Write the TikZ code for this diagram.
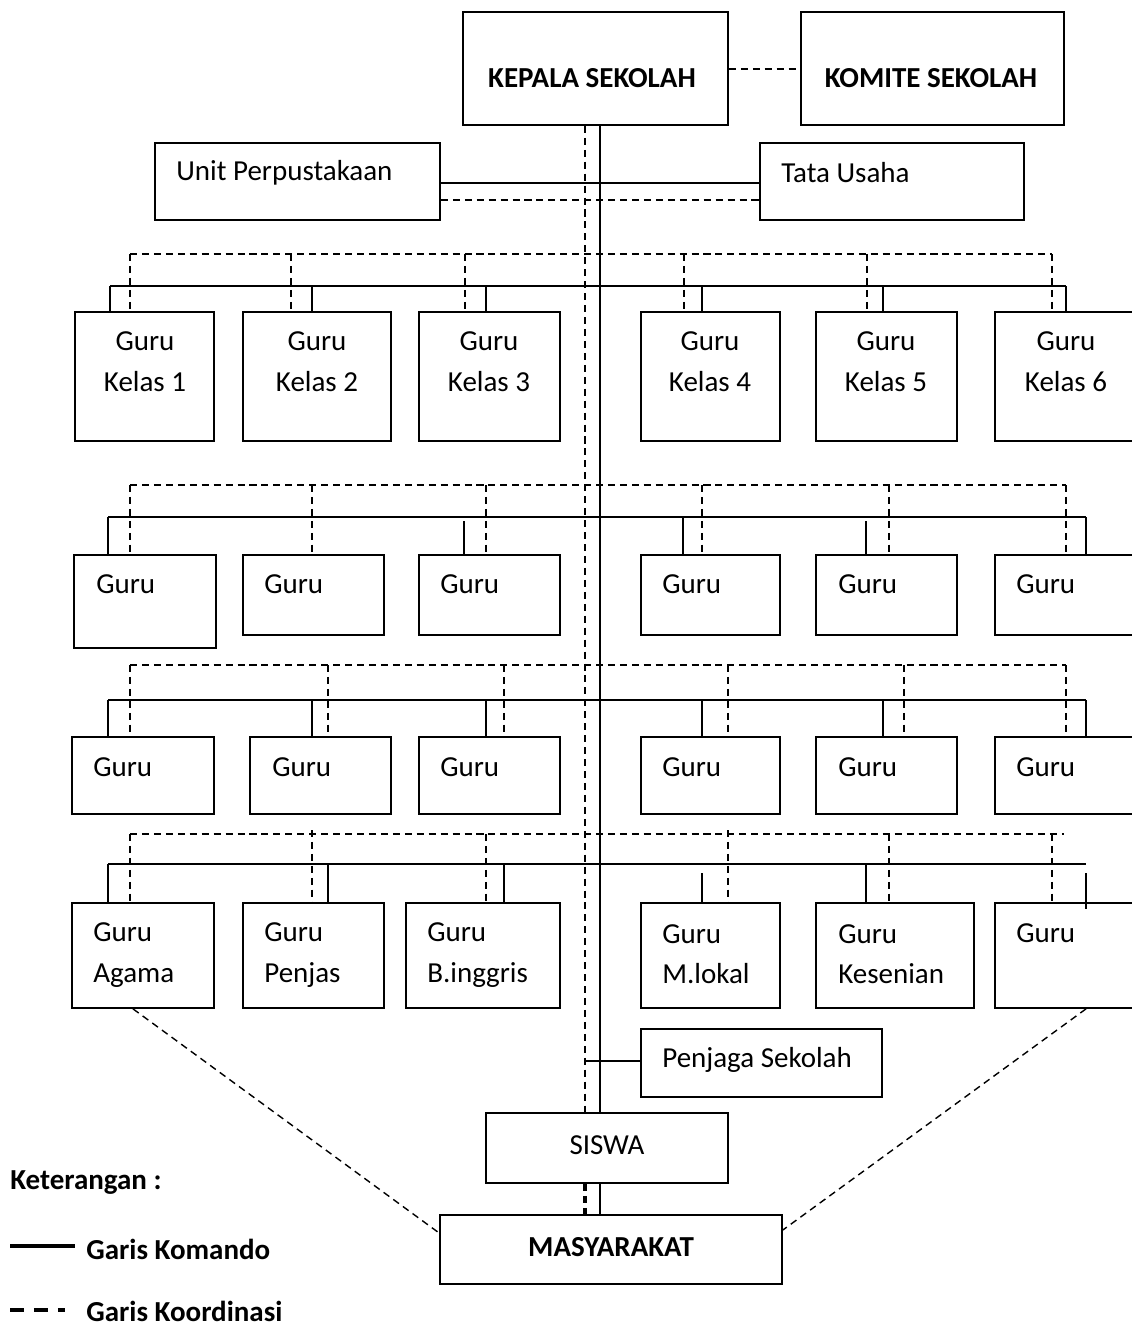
\documentclass[tikz,border=0pt]{standalone}
\usepackage{fontspec}
\setmainfont{Carlito}
\usetikzlibrary{positioning}

\begin{document}
\begin{tikzpicture}[x=0.02cm,y=-0.02cm,font=\fontsize{16.5}{23}\selectfont,
  box/.style={draw,line width=1pt,inner sep=0pt},
  lbl/.style={inner sep=0pt,align=left},
  hd/.style={inner sep=0pt,font=\fontsize{16.5}{23}\selectfont\bfseries},
  cmd/.style={line width=0.8pt},
  crd/.style={line width=0.8pt,dash pattern=on 4pt off 2.8pt}]
  \useasboundingbox (0,0) rectangle (1132,1328);
  % Pimpinan
  \node[box,minimum width=5.3cm,minimum height=2.26cm] (kepala) at (595.5,68.5) {};
  \node[hd] (kepalat) at (592,78) {KEPALA SEKOLAH};
  \node[box,minimum width=5.26cm,minimum height=2.26cm] (komite) at (932.5,68.5) {};
  \node[hd] (komitet) at (931,78) {KOMITE SEKOLAH};
  \node[box,minimum width=5.7cm,minimum height=1.54cm] (unit) at (297.5,181.5) {};
  \node[lbl,anchor=west] (unitt) at (176,173) {Unit Perpustakaan};
  \node[box,minimum width=5.28cm,minimum height=1.54cm] (tu) at (892,181.5) {};
  \node[lbl,anchor=west] (tut) at (781,173) {Tata Usaha};
  \draw[crd] (kepala.east |- 0,69) -- (komite.west |- 0,69);
  \draw[cmd] (unit.east |- 0,183) -- (tu.west |- 0,183);
  \draw[crd] (unit.east |- 0,200) -- (tu.west |- 0,200);

  % Guru kelas
  \node[box,minimum width=2.78cm,minimum height=2.58cm] (k1) at (144.5,376.5) {};
  \node[box,minimum width=2.96cm,minimum height=2.58cm] (k2) at (317,376.5) {};
  \node[box,minimum width=2.82cm,minimum height=2.58cm] (k3) at (489.5,376.5) {};
  \node[box,minimum width=2.78cm,minimum height=2.58cm] (k4) at (710.5,376.5) {};
  \node[box,minimum width=2.82cm,minimum height=2.58cm] (k5) at (886.5,376.5) {};
  \node[box,minimum width=2.9cm,minimum height=2.58cm] (k6) at (1067.5,376.5) {};
  \node[lbl,align=center] (k1t) at (145,361.5) {Guru\\Kelas 1};
  \node[lbl,align=center] (k2t) at (317,361.5) {Guru\\Kelas 2};
  \node[lbl,align=center] (k3t) at (489,361.5) {Guru\\Kelas 3};
  \node[lbl,align=center] (k4t) at (710,361.5) {Guru\\Kelas 4};
  \node[lbl,align=center] (k5t) at (886,361.5) {Guru\\Kelas 5};
  \node[lbl,align=center] (k6t) at (1066,361.5) {Guru\\Kelas 6};
  \draw[cmd] (110,286) -- (1066,286);
  \draw[cmd] (110,286) -- (k1.north -| 110,0) (312,286) -- (k2.north -| 312,0)
    (486,286) -- (k3.north -| 486,0) (702,286) -- (k4.north -| 702,0)
    (883,286) -- (k5.north -| 883,0) (1066,286) -- (k6.north -| 1066,0);
  \draw[crd] (130,254) -- (1052,254);
  \draw[crd] (130,254) -- (k1.north -| 130,0) (291,254) -- (k2.north -| 291,0)
    (465,254) -- (k3.north -| 465,0) (684,254) -- (k4.north -| 684,0)
    (867,254) -- (k5.north -| 867,0) (1052,254) -- (k6.north -| 1052,0);

  % Guru baris 3
  \node[box,minimum width=2.84cm,minimum height=1.86cm] (g31) at (145,601.5) {};
  \node[box,minimum width=2.82cm,minimum height=1.6cm] (g32) at (313.5,595) {};
  \node[box,minimum width=2.82cm,minimum height=1.6cm] (g33) at (489.5,595) {};
  \node[box,minimum width=2.78cm,minimum height=1.6cm] (g34) at (710.5,595) {};
  \node[box,minimum width=2.82cm,minimum height=1.6cm] (g35) at (886.5,595) {};
  \node[box,minimum width=2.9cm,minimum height=1.6cm] (g36) at (1067.5,595) {};
  \node[lbl,anchor=west] (g31t) at (96,584) {Guru};
  \node[lbl,anchor=west] (g32t) at (264,584) {Guru};
  \node[lbl,anchor=west] (g33t) at (440,584) {Guru};
  \node[lbl,anchor=west] (g34t) at (662,584) {Guru};
  \node[lbl,anchor=west] (g35t) at (838,584) {Guru};
  \node[lbl,anchor=west] (g36t) at (1016,584) {Guru};
  \draw[cmd] (108,517) -- (1086,517);
  \draw[cmd] (108,517) -- (g31.north -| 108,0) (464,521) -- (g33.north -| 464,0)
    (683,517) -- (g34.north -| 683,0) (866,521) -- (g35.north -| 866,0)
    (1086,517) -- (g36.north -| 1086,0);
  \draw[crd] (130,485) -- (1066,485);
  \draw[crd] (130,485) -- (g31.north -| 130,0) (312,485) -- (g32.north -| 312,0)
    (486,485) -- (g33.north -| 486,0) (702,485) -- (g34.north -| 702,0)
    (889,485) -- (g35.north -| 889,0) (1066,485) -- (g36.north -| 1066,0);

  % Guru baris 4
  \node[box,minimum width=2.84cm,minimum height=1.54cm] (g41) at (143,775.5) {};
  \node[box,minimum width=2.82cm,minimum height=1.54cm] (g42) at (320.5,775.5) {};
  \node[box,minimum width=2.82cm,minimum height=1.54cm] (g43) at (489.5,775.5) {};
  \node[box,minimum width=2.78cm,minimum height=1.54cm] (g44) at (710.5,775.5) {};
  \node[box,minimum width=2.82cm,minimum height=1.54cm] (g45) at (886.5,775.5) {};
  \node[box,minimum width=2.9cm,minimum height=1.54cm] (g46) at (1067.5,775.5) {};
  \node[lbl,anchor=west] (g41t) at (93,767) {Guru};
  \node[lbl,anchor=west] (g42t) at (272,767) {Guru};
  \node[lbl,anchor=west] (g43t) at (440,767) {Guru};
  \node[lbl,anchor=west] (g44t) at (662,767) {Guru};
  \node[lbl,anchor=west] (g45t) at (838,767) {Guru};
  \node[lbl,anchor=west] (g46t) at (1016,767) {Guru};
  \draw[cmd] (108,700) -- (1086,700);
  \draw[cmd] (108,700) -- (g41.north -| 108,0) (312,700) -- (g42.north -| 312,0)
    (486,700) -- (g43.north -| 486,0) (702,700) -- (g44.north -| 702,0)
    (883,700) -- (g45.north -| 883,0) (1086,700) -- (g46.north -| 1086,0);
  \draw[crd] (130,665) -- (1066,665);
  \draw[crd] (130,665) -- (g41.north -| 130,0) (328,665) -- (g42.north -| 328,0)
    (504,665) -- (g43.north -| 504,0) (728,665) -- (g44.north -| 728,0)
    (904,665) -- (g45.north -| 904,0) (1066,665) -- (g46.north -| 1066,0);

  % Guru bidang studi
  \node[box,minimum width=2.84cm,minimum height=2.1cm] (agama) at (143,955.5) {};
  \node[box,minimum width=2.82cm,minimum height=2.1cm] (penjas) at (313.5,955.5) {};
  \node[box,minimum width=3.08cm,minimum height=2.1cm] (bing) at (483,955.5) {};
  \node[box,minimum width=2.78cm,minimum height=2.1cm] (mlokal) at (710.5,955.5) {};
  \node[box,minimum width=3.16cm,minimum height=2.1cm] (seni) at (895,955.5) {};
  \node[box,minimum width=2.9cm,minimum height=2.1cm] (g56) at (1067.5,955.5) {};
  \node[lbl,anchor=west] (agamat) at (93,955) {Guru\\Agama};
  \node[lbl,anchor=west] (penjast) at (264,955) {Guru\\Penjas};
  \node[lbl,anchor=west] (bingt) at (427,955) {Guru\\B.inggris};
  \node[lbl,anchor=west] (mlokalt) at (662,954) {Guru\\M.lokal};
  \node[lbl,anchor=west] (senit) at (838,954) {Guru\\Kesenian};
  \node[lbl,anchor=west] (g56t) at (1016,933) {Guru};
  \draw[cmd] (108,864) -- (1086,864);
  \draw[cmd] (108,864) -- (agama.north -| 108,0) (328,864) -- (penjas.north -| 328,0)
    (504,864) -- (bing.north -| 504,0) (702,873) -- (mlokal.north -| 702,0)
    (866,864) -- (seni.north -| 866,0) (1086,873) -- ([yshift=-0.14cm]g56.north -| 1086,0);
  \draw[crd] (130,834) -- (1064,834);
  \draw[crd] (130,834) -- (agama.north -| 130,0) (312,830) -- (penjas.north -| 312,0)
    (486,834) -- (bing.north -| 486,0) (728,830) -- (mlokal.north -| 728,0)
    (889,834) -- (seni.north -| 889,0) (1052,834) -- (g56.north -| 1052,0);

  % Bawah
  \node[box,minimum width=4.82cm,minimum height=1.36cm] (penjaga) at (761.5,1063) {};
  \node[lbl,anchor=west] (penjagat) at (662,1060) {Penjaga Sekolah};
  \node[box,minimum width=4.84cm,minimum height=1.4cm] (siswa) at (607,1148) {};
  \node[lbl] (siswat) at (607,1145) {SISWA};
  \node[box,minimum width=6.84cm,minimum height=1.38cm] (masy) at (611,1249.5) {};
  \node[hd] (masyt) at (611,1247) {MASYARAKAT};
  \draw[cmd] (penjaga.west |- 0,1061) -- (585,1061);
  % Garis tengah
  \draw[cmd] (kepala.south -| 600,0) -- (siswa.north -| 600,0);
  \draw[crd] (kepala.south -| 585,0) -- (siswa.north -| 585,0);
  \draw[cmd] (siswa.south -| 600,0) -- (masy.north -| 600,0);
  \draw[crd,line width=2pt] (siswa.south -| 585,0) -- (masy.north -| 585,0);
  \draw[crd] (agama.south -| 133,0) -- (masy.west |- 0,1233);
  \draw[crd] (g56.south -| 1086,0) -- (masy.east |- 0,1230);

  % Keterangan
  \node[hd,anchor=west] (ket) at (10,1183) {Keterangan :};
  \coordinate (ls1) at (10,1246);
  \coordinate (ls2) at (75,1246);
  \draw[line width=2pt] (ls1) -- (ls2);
  \node[hd,anchor=west] (ketk) at (86,1249) {Garis Komando};
  \coordinate (ld1) at (10,1310);
  \coordinate (ld2) at (65,1310);
  \draw[line width=2pt,dash pattern=on 0.28cm off 0.2cm] (ld1) -- (ld2);
  \node[hd,anchor=west] (ketd) at (86,1311) {Garis Koordinasi};
\end{tikzpicture}
\end{document}
